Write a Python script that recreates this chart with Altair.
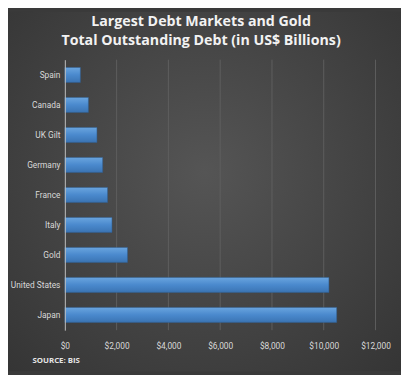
import altair as alt
import pandas as pd

countries = ["Spain", "Canada", "UK Gilt", "Germany", "France", "Italy", "Gold", "United States", "Japan"]
debt = [600, 910, 1240, 1460, 1650, 1820, 2420, 10200, 10500]
x_ticks = [0, 2000, 4000, 6000, 8000, 10000, 12000]
title_line1 = "Largest Debt Markets and Gold"
title_line2 = "Total Outstanding Debt (in US$ Billions)"
source_text = "SOURCE: BIS"

df = pd.DataFrame({"country": countries, "debt": debt})
ticks_df = pd.DataFrame({"t": x_ticks[1:]})

W, H = 317, 276
PL, PT, PR, PB = 58, 49, 26, 42
CX = (197 - PL)  # title center relative to the plot

bg = alt.Chart(alt.Data(values=[{}])).mark_rect(
    color=alt.RadialGradient(
        gradient="radial", x1=0.5, y1=0.45, r1=0, x2=0.5, y2=0.45, r2=0.75,
        stops=[alt.GradientStop(offset=0, color="#555555"),
               alt.GradientStop(offset=1, color="#333333")]
    )
).encode(
    x=alt.value(-PL), x2=alt.value(W + PR),
    y=alt.value(-PT), y2=alt.value(H + PB)
)

xscale = alt.Scale(domain=[0, 12000], nice=False)

grid = alt.Chart(ticks_df).mark_rule(color="#5e5e5e", strokeWidth=1).encode(
    x=alt.X("t:Q", scale=xscale)
)

bars = alt.Chart(df).mark_bar(
    color=alt.LinearGradient(
        gradient="linear", x1=0, y1=0, x2=0, y2=1,
        stops=[alt.GradientStop(offset=0, color="#6aa5df"),
               alt.GradientStop(offset=0.5, color="#4a89cd"),
               alt.GradientStop(offset=1, color="#3b74b3")]
    ),
    stroke="#2f5f92", strokeWidth=0.5
).encode(
    x=alt.X("debt:Q", scale=xscale,
            axis=alt.Axis(values=x_ticks, format="$,.0f", title=None, domain=False,
                          ticks=False, grid=False, labelFlush=False, labelOverlap=False,
                          labelColor="#d9d9d9", labelFont="Roboto", labelFontSize=8.5,
                          labelPadding=12, zindex=1)),
    y=alt.Y("country:N", sort=countries,
            scale=alt.Scale(paddingInner=0.5, paddingOuter=0.26),
            axis=alt.Axis(title=None, domain=True, domainColor="#bfbfbf", domainWidth=1,
                          ticks=False, grid=False, labelColor="#d9d9d9", labelFont="Roboto",
                          labelFontSize=8.5, labelPadding=5, labelLimit=0, zindex=2))
)

def text_layer(txt, x, y, size, weight="bold", font="Open Sans", align="center", color="#f2f2f2"):
    return alt.Chart(alt.Data(values=[{}])).mark_text(
        text=txt, font=font, fontWeight=weight, fontSize=size,
        color=color, align=align, baseline="alphabetic"
    ).encode(x=alt.value(x), y=alt.value(y))

t1 = text_layer(title_line1, CX, -34, 14.5)
t2 = text_layer(title_line2, CX, -15, 14.5)
source = text_layer(source_text, 25 - PL, 309, 8, font="Open Sans", align="left", color="#e6e6e6")

chart = alt.layer(bg, grid, bars, source, t1, t2).properties(
    width=W, height=H,
    autosize=alt.AutoSizeParams(type="none"),
    padding={"left": PL, "top": PT, "right": PR, "bottom": PB},
    background="#3a3a3a",
).configure_view(stroke=None)

chart.save("out.html", embed_options={"renderer": "svg", "actions": False})
